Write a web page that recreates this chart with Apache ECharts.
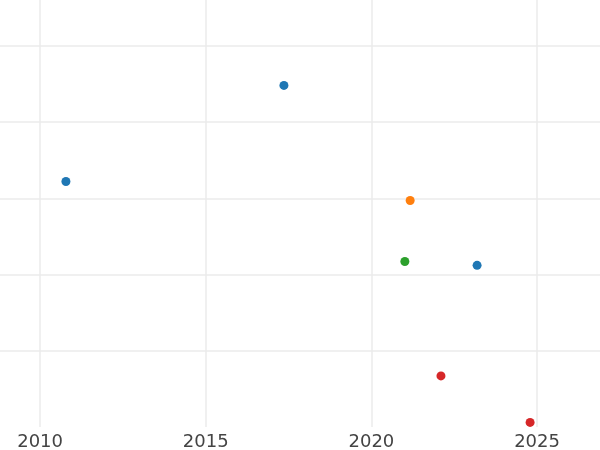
<!DOCTYPE html>
<html><head><meta charset="utf-8">
<script src="https://cdn.jsdelivr.net/npm/echarts@6/dist/echarts.min.js"></script>
<style>html,body{margin:0;padding:0;background:#fff}#c{width:600px;height:450px}</style>
</head><body><div id="c"></div>
<script>
var xTicks = [2010, 2015, 2020, 2025];
var blueX = [2017.36, 2010.78, 2023.19];
var blueY = [4.48, 3.22, 2.12];
var orangeX = [2021.17];
var orangeY = [2.97];
var greenX = [2021.01];
var greenY = [2.17];
var redX = [2022.10, 2024.79];
var redY = [0.67, 0.06];

function pts(xs, ys){ return xs.map(function(x,i){ return [x, ys[i]]; }); }
function ser(xs, ys, color){
  return {type:'scatter', data:pts(xs, ys), symbolSize:9, itemStyle:{color:color, opacity:1}};
}
var chart = echarts.init(document.getElementById('c'), null, {renderer:'canvas'});
chart.setOption({
  animation:false,
  backgroundColor:'#fff',
  grid:{left:0, right:0, top:0, bottom:23, containLabel:false, outerBoundsMode:'none'},
  xAxis:{type:'value', min:2008.79, max:2026.9,
    axisLine:{show:false}, axisTick:{show:false}, splitLine:{show:false},
    axisLabel:{show:true, color:'#444', fontSize:18, fontFamily:'DejaVu Sans', margin:6,
      customValues: xTicks, formatter:function(v){return String(v);}}},
  yAxis:{type:'value', min:0, max:5.6, interval:1,
    axisLine:{show:false}, axisTick:{show:false}, axisLabel:{show:false},
    splitLine:{show:true, showMinLine:false, showMaxLine:false, lineStyle:{color:'#ebebeb', width:1.5}}},
  series:[
    {type:'line', data:[], markLine:{silent:true, symbol:'none', label:{show:false},
      lineStyle:{color:'#ebebeb', width:1.5, type:'solid'},
      data: xTicks.map(function(t){ return {xAxis:t}; })}, z:0},
    ser(blueX, blueY, '#1f77b4'),
    ser(orangeX, orangeY, '#ff7f0e'),
    ser(greenX, greenY, '#2ca02c'),
    ser(redX, redY, '#d62728')
  ]
});
</script></body></html>
